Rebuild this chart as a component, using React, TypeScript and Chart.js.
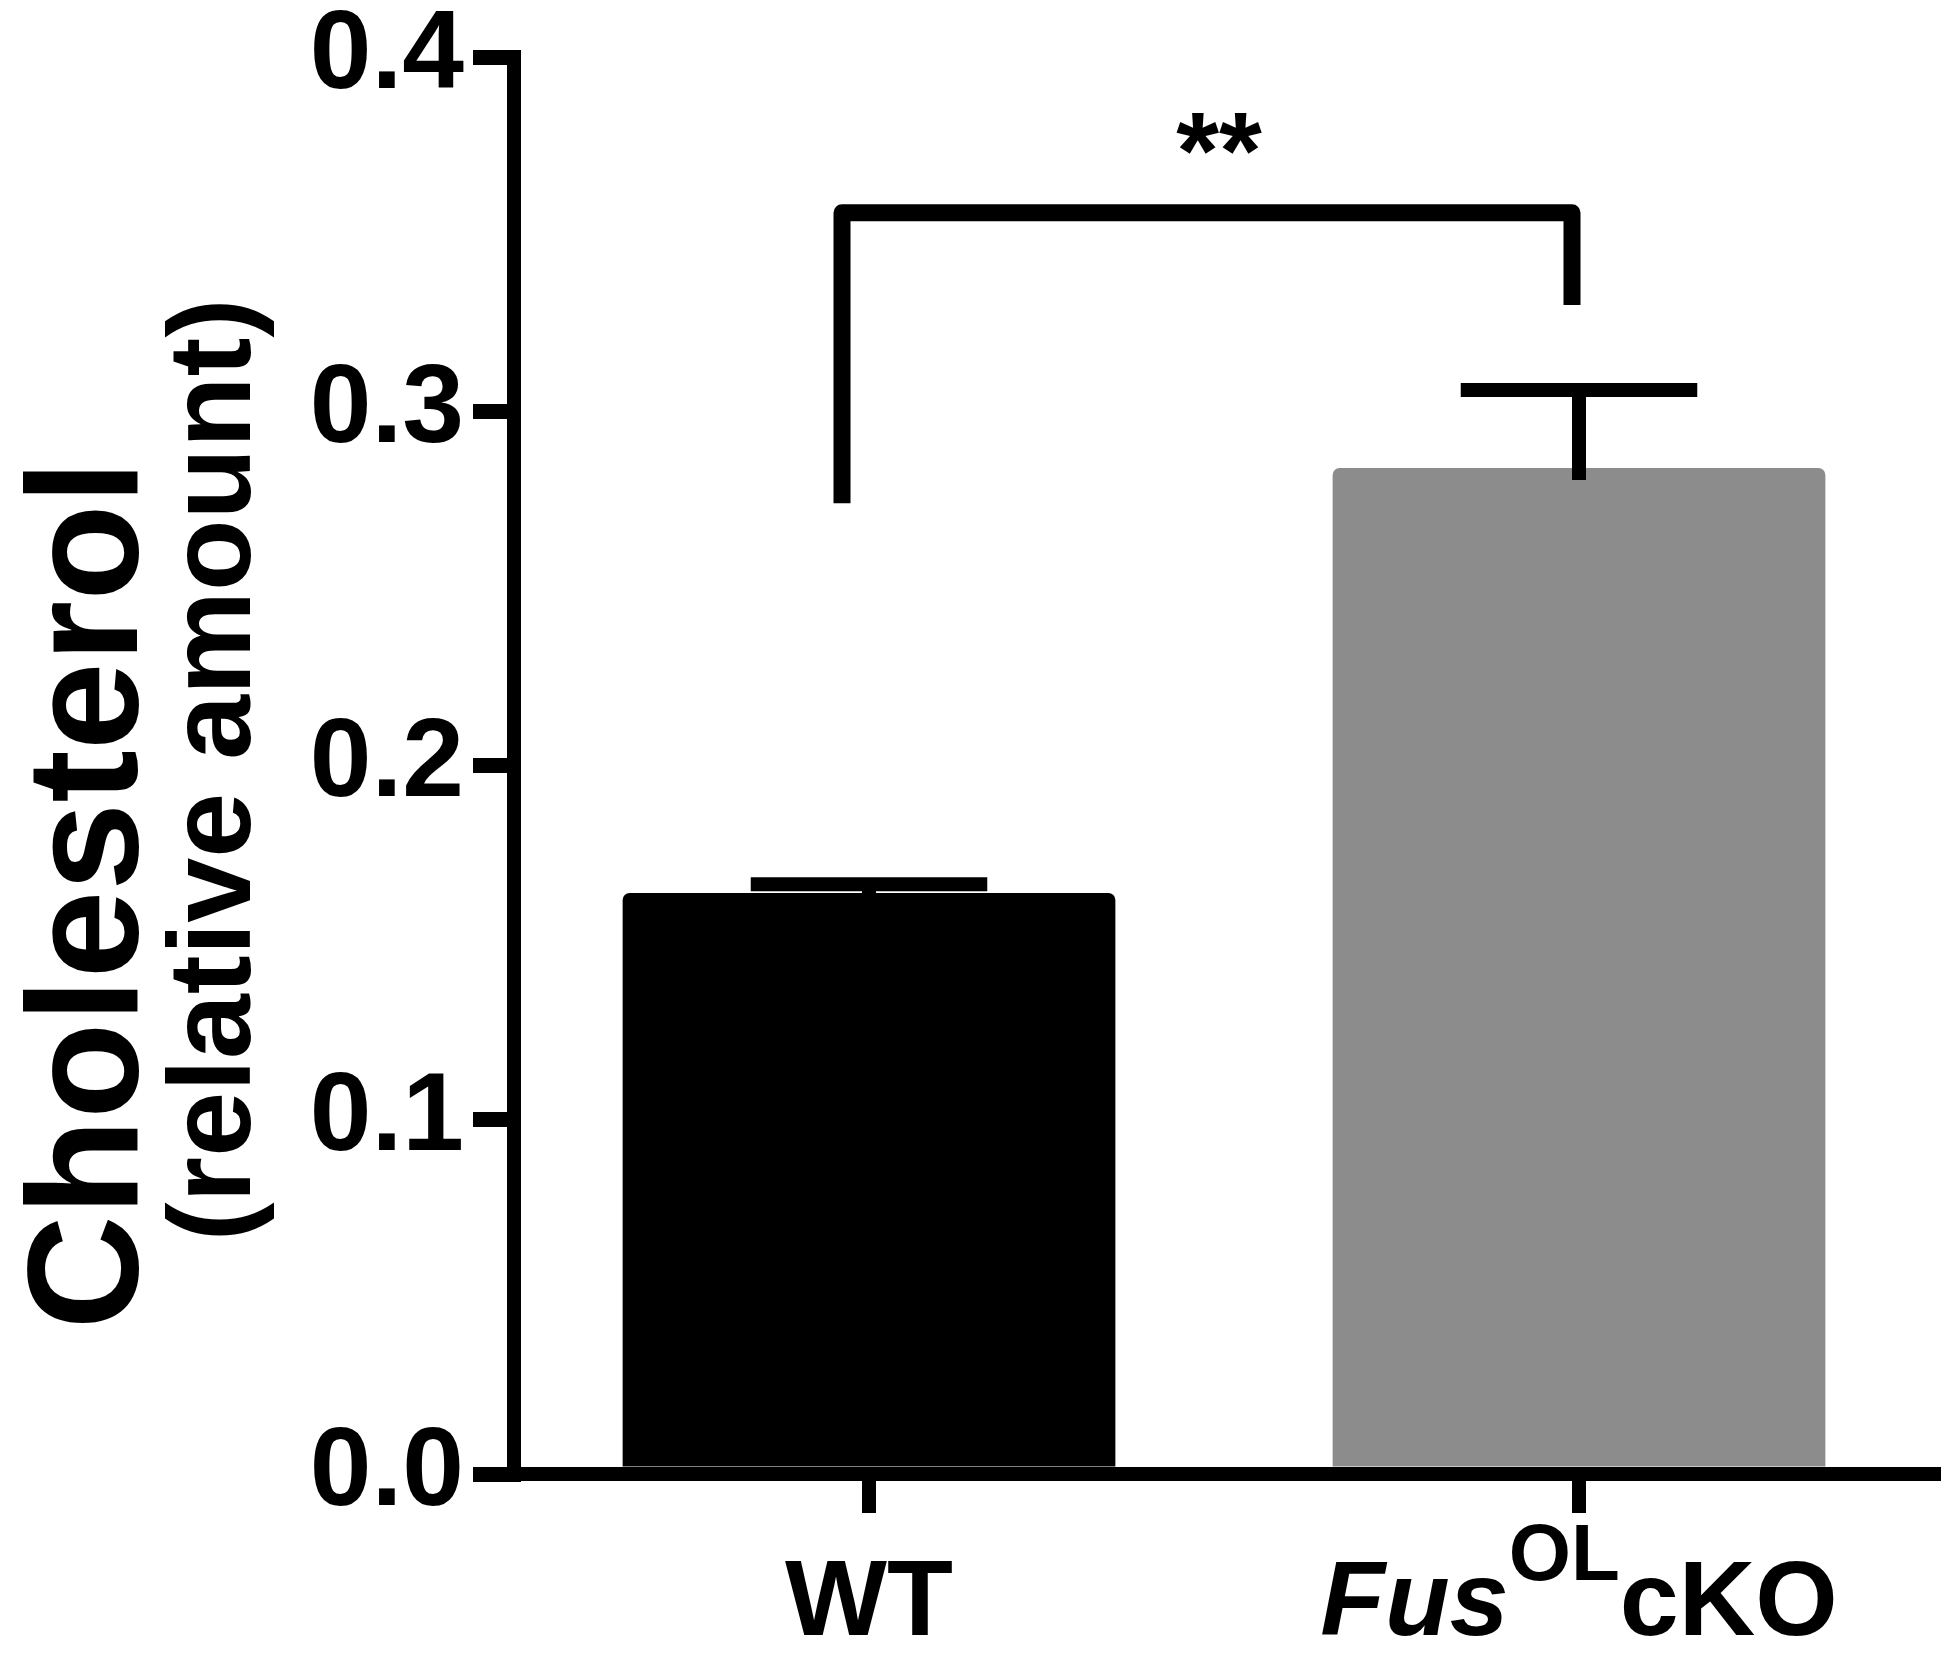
import React, { useEffect, useRef } from "react";
import { Chart, registerables } from "chart.js";

Chart.register(...registerables);

// ---- data ----
const categories = ["WT", "FusOLcKO"];
const means = [0.164, 0.284];
const sems = [0.0025, 0.022];
const barColors = ["#000000", "#8c8c8c"];
const yTickValues = [0, 0.1, 0.2, 0.3, 0.4];
const yTitleLines = ["Cholesterol", "(relative amount)"];
// label pieces for the second category (italic gene name, superscript, suffix)
const fusLabelParts = [
  { text: "Fus", italic: true, sup: false },
  { text: "OL", italic: false, sup: true },
  { text: "cKO", italic: false, sup: false },
];
const sigText = "**";
const bracketTopValue = 0.356;
const bracketLegEndValues = [0.274, 0.33];

const FONT = "'Liberation Sans', Arial, Helvetica, sans-serif";

const overlayPlugin = {
  id: "overlay",
  afterDatasetsDraw(chart: any) {
    const ctx = chart.ctx;
    const xs = chart.scales.x;
    const ys = chart.scales.y;
    const meta = chart.getDatasetMeta(0);
    ctx.save();
    ctx.strokeStyle = "#000";
    ctx.lineCap = "butt";
    // error bars
    for (let i = 0; i < means.length; i++) {
      const x = xs.getPixelForValue(i);
      const yTop = ys.getPixelForValue(means[i] + sems[i]);
      const yBar = ys.getPixelForValue(means[i]);
      const capHalf = meta.data[i].width * 0.24;
      ctx.lineWidth = 14;
      ctx.beginPath();
      ctx.moveTo(x, yTop);
      ctx.lineTo(x, yBar + 12);
      ctx.stroke();
      ctx.beginPath();
      ctx.moveTo(x - capHalf, yTop);
      ctx.lineTo(x + capHalf, yTop);
      ctx.stroke();
    }
    // significance bracket
    const xl = xs.getPixelForValue(0) - 27;
    const xr = xs.getPixelForValue(1) - 7;
    const yT = ys.getPixelForValue(bracketTopValue);
    ctx.lineWidth = 17;
    ctx.lineJoin = "round";
    ctx.beginPath();
    ctx.moveTo(xl, ys.getPixelForValue(bracketLegEndValues[0]));
    ctx.lineTo(xl, yT);
    ctx.lineTo(xr, yT);
    ctx.lineTo(xr, ys.getPixelForValue(bracketLegEndValues[1]));
    ctx.stroke();
    ctx.fillStyle = "#000";
    ctx.font = `bold 110px ${FONT}`;
    ctx.textAlign = "center";
    ctx.textBaseline = "alphabetic";
    ctx.fillText(sigText, (xl + xr) / 2 + 12, yT - 25);
    ctx.restore();
  },
  afterDraw(chart: any) {
    const ctx = chart.ctx;
    const xs = chart.scales.x;
    ctx.save();
    ctx.fillStyle = "#000";
    // y-axis title (two lines, rotated)
    ctx.textAlign = "center";
    ctx.textBaseline = "alphabetic";
    ctx.save();
    ctx.translate(137, 895);
    ctx.rotate(-Math.PI / 2);
    ctx.font = `bold 158px ${FONT}`;
    ctx.fillText(yTitleLines[0], 0, 0);
    ctx.restore();
    ctx.save();
    ctx.translate(250, 770);
    ctx.rotate(-Math.PI / 2);
    ctx.font = `bold 117px ${FONT}`;
    ctx.fillText(yTitleLines[1], 0, 0);
    ctx.restore();

    // x labels
    const baseY = 1635;
    ctx.textAlign = "center";
    ctx.font = `bold 108px ${FONT}`;
    ctx.fillText(categories[0], xs.getPixelForValue(0), baseY);

    const fontFor = (p: any) =>
      `${p.italic ? "italic " : ""}bold ${p.sup ? 80 : 106}px ${FONT}`;
    let total = 0;
    const widths = fusLabelParts.map((p) => {
      ctx.font = fontFor(p);
      const w = ctx.measureText(p.text).width;
      total += w;
      return w;
    });
    let x = xs.getPixelForValue(1) - total / 2;
    ctx.textAlign = "left";
    fusLabelParts.forEach((p, i) => {
      ctx.font = fontFor(p);
      ctx.fillText(p.text, x, p.sup ? baseY - 55 : baseY);
      x += widths[i];
    });
    ctx.restore();
  },
};

export default function App() {
  const ref = useRef<HTMLCanvasElement | null>(null);
  useEffect(() => {
    if (!ref.current) return;
    const chart = new Chart(ref.current, {
      type: "bar",
      data: {
        labels: categories,
        datasets: [
          {
            data: means,
            backgroundColor: barColors,
            borderWidth: 0,
            barPercentage: 0.694,
            categoryPercentage: 1,
            borderRadius: { topLeft: 7, topRight: 7, bottomLeft: 0, bottomRight: 0 },
            borderSkipped: "start",
          },
        ],
      },
      options: {
        animation: false,
        responsive: true,
        maintainAspectRatio: false,
        layout: { padding: { left: 0, right: 16, top: 57, bottom: 0 } },
        plugins: { legend: { display: false }, tooltip: { enabled: false } },
        scales: {
          x: {
            type: "category",
            offset: true,
            z: 1,
            ticks: { display: false },
            grid: {
              offset: false,
              drawOnChartArea: false,
              drawTicks: true,
              tickLength: 39,
              lineWidth: 14,
              color: "#000",
            },
            border: { display: true, width: 14, color: "#000" },
            afterFit: (s: any) => {
              s.height = 186;
              s.paddingLeft = 0;
              s.paddingRight = 0;
            },
          },
          y: {
            min: 0,
            max: 0.4,
            z: 1,
            afterBuildTicks: (s: any) => {
              s.ticks = yTickValues.map((v) => ({ value: v }));
            },
            ticks: {
              color: "#000",
              padding: 9,
              font: { family: FONT, size: 111, weight: "bold" },
              callback: (v: any) => Number(v).toFixed(1),
            },
            grid: {
              drawOnChartArea: false,
              drawTicks: true,
              tickLength: 41,
              lineWidth: 15,
              color: "#000",
            },
            border: { display: true, width: 14, color: "#000" },
            afterFit: (s: any) => {
              s.width = 514;
              s.paddingTop = 0;
              s.paddingBottom = 0;
            },
          },
        },
      },
      plugins: [overlayPlugin],
    });
    return () => chart.destroy();
  }, []);
  return (
    <div
      style={{
        position: "absolute",
        left: 0,
        top: 0,
        width: 1950,
        height: 1660,
        background: "#fff",
      }}
    >
      <canvas ref={ref} />
    </div>
  );
}
